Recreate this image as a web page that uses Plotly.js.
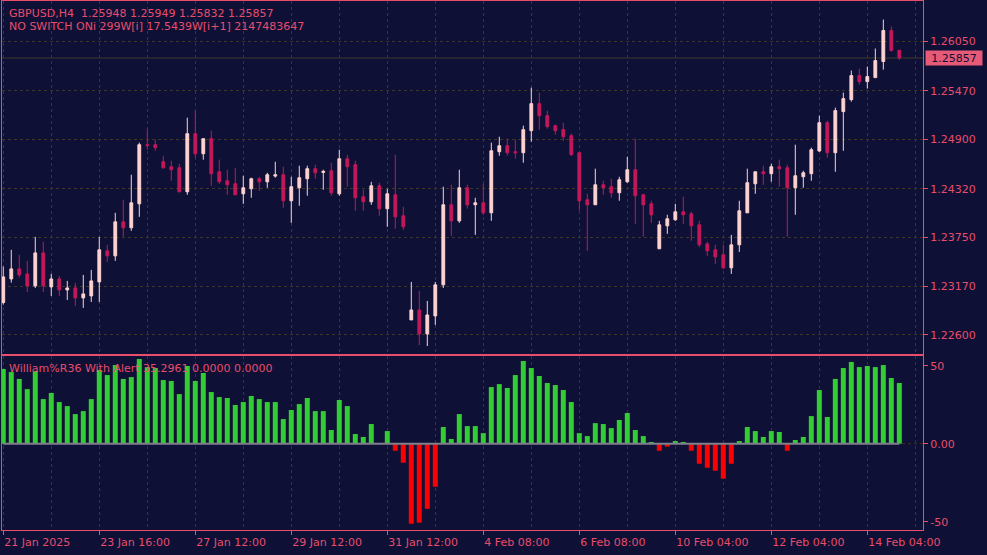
<!DOCTYPE html>
<html><head><meta charset="utf-8">
<script src="https://cdn.plot.ly/plotly-3.0.1.min.js"></script>
<style>html,body{margin:0;padding:0;background:#0e1035;}#chart{width:987px;height:555px;}</style>
</head><body><div id="chart"></div>
<script>
// ---- data (GBPUSD H4) ----
const open = [
1.22981,1.23259,1.23377,1.23318,1.23177,1.23565,1.23165,1.23259,1.23130,1.23153,
1.23036,1.23059,1.23224,1.23589,1.23530,1.23930,1.23860,1.24142,1.24837,1.24837,
1.24637,1.24578,1.24566,1.24284,1.24967,1.24731,1.24908,1.24519,1.24413,1.24378,
1.24260,1.24319,1.24437,1.24401,1.24468,1.24484,1.24178,1.24331,1.24437,1.24555,
1.24511,1.24531,1.24260,1.24672,1.24602,1.24225,1.24166,1.24354,1.24084,1.24248,
1.24001,1.22777,1.22894,1.22612,1.22824,1.23189,1.24131,1.23942,1.24331,1.24131,
1.24154,1.24036,1.24755,1.24825,1.24755,1.24743,1.25002,1.25320,1.25179,1.25061,
1.25014,1.24943,1.24743,1.24190,1.24131,1.24366,1.24343,1.24272,1.24401,1.24543,
1.24248,1.24143,1.23613,1.23883,1.23954,1.24048,1.24025,1.23895,1.23671,1.23601,
1.23542,1.23389,1.23660,1.24036,1.24378,1.24519,1.24496,1.24578,1.24566,1.24331,
1.24460,1.24496,1.24763,1.25096,1.24743,1.25226,1.25367,1.25650,1.25579,1.25626,
1.25815,1.26180,1.25948];
const high = [
1.23405,1.23601,1.23542,1.23471,1.23754,1.23695,1.23318,1.23295,1.23236,1.23212,
1.23306,1.23365,1.23754,1.23660,1.24036,1.24190,1.24484,1.24861,1.25026,1.24896,
1.24708,1.24649,1.24613,1.25155,1.25237,1.24908,1.25002,1.24661,1.24543,1.24566,
1.24472,1.24449,1.24460,1.24507,1.24637,1.24578,1.24460,1.24590,1.24590,1.24602,
1.24543,1.24625,1.24778,1.24719,1.24649,1.24307,1.24401,1.24390,1.24319,1.24719,
1.24107,1.23224,1.23118,1.23000,1.23224,1.24343,1.24366,1.24543,1.24366,1.24213,
1.24378,1.24861,1.24931,1.24908,1.24896,1.25061,1.25508,1.25449,1.25237,1.25073,
1.25096,1.24967,1.24755,1.24260,1.24555,1.24413,1.24437,1.24460,1.24696,1.24908,
1.24260,1.24178,1.23942,1.24013,1.24142,1.24225,1.24048,1.23942,1.23695,1.23660,
1.23660,1.23777,1.24178,1.24555,1.24519,1.24590,1.24613,1.24661,1.24602,1.24837,
1.24531,1.24802,1.25179,1.25120,1.25273,1.25450,1.25709,1.25732,1.25756,1.25968,
1.26309,1.26227,1.25949];
const low = [
1.22957,1.23216,1.23275,1.23106,1.23153,1.23106,1.23059,1.23059,1.23012,1.22941,
1.22918,1.22988,1.22988,1.23459,1.23471,1.23754,1.23824,1.23989,1.24778,1.24766,
1.24555,1.24413,1.24276,1.24248,1.24684,1.24661,1.24354,1.24378,1.24248,1.24248,
1.24142,1.24213,1.24295,1.24331,1.24449,1.24095,1.23919,1.24119,1.24237,1.24437,
1.24307,1.24237,1.24237,1.24343,1.24060,1.24060,1.24131,1.24001,1.23872,1.23848,
1.23836,1.22777,1.22482,1.22470,1.22718,1.23153,1.23766,1.23919,1.24084,1.23777,
1.24013,1.23942,1.24708,1.24708,1.24672,1.24625,1.24872,1.25014,1.25026,1.24955,
1.24884,1.24708,1.24060,1.23589,1.24131,1.24248,1.24213,1.24178,1.24390,1.23907,
1.23754,1.23919,1.23613,1.23789,1.23942,1.23907,1.23707,1.23636,1.23530,1.23436,
1.23377,1.23318,1.23577,1.24036,1.24260,1.24366,1.24402,1.24343,1.23754,1.24013,
1.24331,1.24413,1.24755,1.24684,1.24519,1.24766,1.25344,1.25544,1.25497,1.25626,
1.25720,1.25932,1.25832];
const close = [
1.23283,1.23377,1.23306,1.23177,1.23565,1.23177,1.23259,1.23130,1.23153,1.23036,
1.23083,1.23236,1.23601,1.23530,1.23930,1.23860,1.24154,1.24837,1.24829,1.24802,
1.24566,1.24543,1.24284,1.24967,1.24731,1.24908,1.24496,1.24401,1.24366,1.24248,
1.24331,1.24437,1.24401,1.24484,1.24484,1.24178,1.24343,1.24449,1.24555,1.24507,
1.24523,1.24272,1.24672,1.24578,1.24213,1.24166,1.24354,1.24084,1.24260,1.23989,
1.23872,1.22894,1.22612,1.22835,1.23189,1.24131,1.23942,1.24331,1.24131,1.24154,
1.24036,1.24766,1.24825,1.24743,1.24743,1.25014,1.25320,1.25179,1.25049,1.25002,
1.24931,1.24719,1.24178,1.24131,1.24366,1.24331,1.24272,1.24425,1.24543,1.24237,
1.24131,1.24013,1.23895,1.23966,1.24048,1.24013,1.23883,1.23660,1.23589,1.23518,
1.23389,1.23660,1.24060,1.24390,1.24519,1.24496,1.24578,1.24555,1.24331,1.24472,
1.24507,1.24778,1.25096,1.24743,1.25238,1.25379,1.25650,1.25579,1.25638,1.25826,
1.26180,1.25944,1.25857];
const wpr = [
47.9,45.9,41.5,35.0,46.6,28.6,32.5,26.7,24.1,19.0,
20.9,28.6,47.2,44.0,50.4,41.5,42.7,54.3,49.1,48.5,
40.8,40.2,31.8,49.8,40.2,45.3,33.1,29.9,29.3,24.8,
26.7,30.6,28.6,26.7,26.7,15.8,21.6,25.4,29.3,20.9,
20.9,8.8,28.0,24.1,6.2,4.3,12.6,0.0,8.1,-4.5,
-12.2,-51.3,-50.6,-41.7,-27.6,10.7,3.0,19.0,11.3,11.3,
6.8,36.3,38.2,35.7,44.0,53.0,48.5,43.4,38.9,37.6,
34.4,26.7,6.8,4.9,13.2,12.6,10.0,15.2,19.7,8.8,
4.9,1.1,-4.5,-1.9,1.7,1.1,-4.5,-12.8,-15.4,-17.3,
-22.4,-12.8,1.7,10.7,8.1,4.3,8.1,7.5,-4.5,2.4,
4.3,17.7,34.4,17.1,41.5,48.5,52.4,49.1,49.8,49.1,
50.4,42.1,38.9];
const wprLevel = 0;
const gridIdx = [0,6,12,18,24,30,36,42,48,54,60,66,72,78,84,90,96,102,108,114];
const labelIdx = [0,12,24,36,48,60,72,84,96,108];
const labelText = ["21 Jan 2025","23 Jan 16:00","27 Jan 12:00","29 Jan 12:00","31 Jan 12:00",
  "4 Feb 08:00","6 Feb 08:00","10 Feb 04:00","12 Feb 04:00","14 Feb 04:00"];
const priceTicks = [1.22600,1.23170,1.23750,1.24320,1.24900,1.25470,1.26050];
const wprTicks = [50, 0, -50];
const wprTickText = ["50","0.00","-50"];
const header1 = "GBPUSD,H4&nbsp; 1.25948 1.25949 1.25832 1.25857";
const header2 = "NO SWITCH ONi 299W[i] 17.5439W[i+1] 2147483647";
const indLabel = "William%R36 With Alert 35.2961 0.0000 0.0000";

// ---- style ----
const BG = '#0e1035', RED = '#e84d6c', GRID = '#3b3628';
const BULL = '#fdd3d1', BEAR = '#c2185b';
const GREEN = '#32cd32', NEG = '#ff0000';
const FONT = 'DejaVu Sans';

const idx = close.map((_, i) => i);
const last = close.length - 1;

const traces = [
  {type:'candlestick', x: idx, open, high, low, close, xaxis:'x', yaxis:'y',
   increasing:{line:{color:BULL,width:1}, fillcolor:BULL},
   decreasing:{line:{color:BEAR,width:1}, fillcolor:BEAR},
   whiskerwidth:0, showlegend:false, hoverinfo:'skip'},
  {type:'bar', x: idx, y: wpr, xaxis:'x2', yaxis:'y2',
   marker:{color: wpr.map(v => v >= 0 ? GREEN : NEG), line:{width:0}},
   showlegend:false, hoverinfo:'skip'},
  {type:'scatter', mode:'lines', x:[idx[0], idx[last]], y:[wprLevel, wprLevel], xaxis:'x2', yaxis:'y2',
   line:{color:'#7f7f8e', width:2}, showlegend:false, hoverinfo:'skip'}
];

const xr = [-0.16, 114.96];
const axCommon = {showline:true, mirror:true, linecolor:RED, linewidth:1, zeroline:false,
  gridcolor:GRID, griddash:'3px,3px', gridwidth:1};
const minorGrid = {tickmode:'array', tickvals:gridIdx, ticks:'', showgrid:true,
  gridcolor:GRID, griddash:'3px,3px', gridwidth:1};
const layout = {
  width:987, height:555,
  paper_bgcolor:BG, plot_bgcolor:BG,
  margin:{l:2, r:64, t:1, b:25, pad:0},
  font:{family:FONT, size:11, color:RED},
  showlegend:false, hovermode:false,
  boxgap:0.5, bargap:0.375,
  xaxis: Object.assign({}, axCommon, {anchor:'y', domain:[0,1], range:xr, tickmode:'array', tickvals:gridIdx,
    showticklabels:false, ticks:'', showgrid:true, rangeslider:{visible:false}}),
  yaxis: Object.assign({}, axCommon, {anchor:'x', domain:[0.3327,1], range:[1.223762,1.265268], side:'right',
    tickmode:'array', tickvals:priceTicks, tickformat:'.5f', ticks:'outside', ticklen:4, tickcolor:RED,
    showgrid:true, tickfont:{family:FONT,size:11,color:RED}}),
  xaxis2: Object.assign({}, axCommon, {anchor:'y2', domain:[0,1], range:xr, tickmode:'array', tickvals:labelIdx,
    ticktext:labelText, ticklabelposition:'outside right', ticks:'outside', ticklen:4, tickcolor:RED,
    ticklabelstandoff:2, showgrid:true, minor:minorGrid, tickfont:{family:FONT,size:11,color:RED}}),
  yaxis2: Object.assign({}, axCommon, {anchor:'x2', domain:[0,0.3289], range:[-55.3,56.2], side:'right',
    tickmode:'array', tickvals:wprTicks, ticktext:wprTickText, ticks:'outside', ticklen:4, tickcolor:RED,
    showgrid:false, tickfont:{family:FONT,size:11,color:RED}}),
  shapes:[
    {type:'line', xref:'paper', x0:0, x1:1, yref:'y2', y0:wprLevel, y1:wprLevel, layer:'below',
     line:{color:GRID, width:1, dash:'3px,3px'}},
    {type:'line', xref:'paper', x0:0, x1:1, yref:'y', y0:close[last], y1:close[last], layer:'below',
     line:{color:'#3f3a2b', width:1}}
  ],
  annotations:[
    {xref:'paper', yref:'paper', x:0.0054, y:0.9767, xanchor:'left', yanchor:'middle', showarrow:false,
     text:header1, font:{family:FONT,size:11,color:RED}},
    {xref:'paper', yref:'paper', x:0.0054, y:0.9522, xanchor:'left', yanchor:'middle', showarrow:false,
     text:header2, font:{family:FONT,size:11,color:RED}},
    {xref:'paper', yref:'paper', x:0.0054, y:0.3057, xanchor:'left', yanchor:'middle', showarrow:false,
     text:indLabel, font:{family:FONT,size:11,color:RED}},
    {xref:'paper', yref:'y', x:1, y:close[last], xanchor:'left', yanchor:'middle', xshift:2, showarrow:false,
     text:close[last].toFixed(5), bgcolor:'#e65a78', borderpad:1, width:54, height:12, align:'center',
     font:{family:FONT,size:11,color:BG}}
  ]
};
Plotly.newPlot('chart', traces, layout, {staticPlot:true, displayModeBar:false});
</script></body></html>
